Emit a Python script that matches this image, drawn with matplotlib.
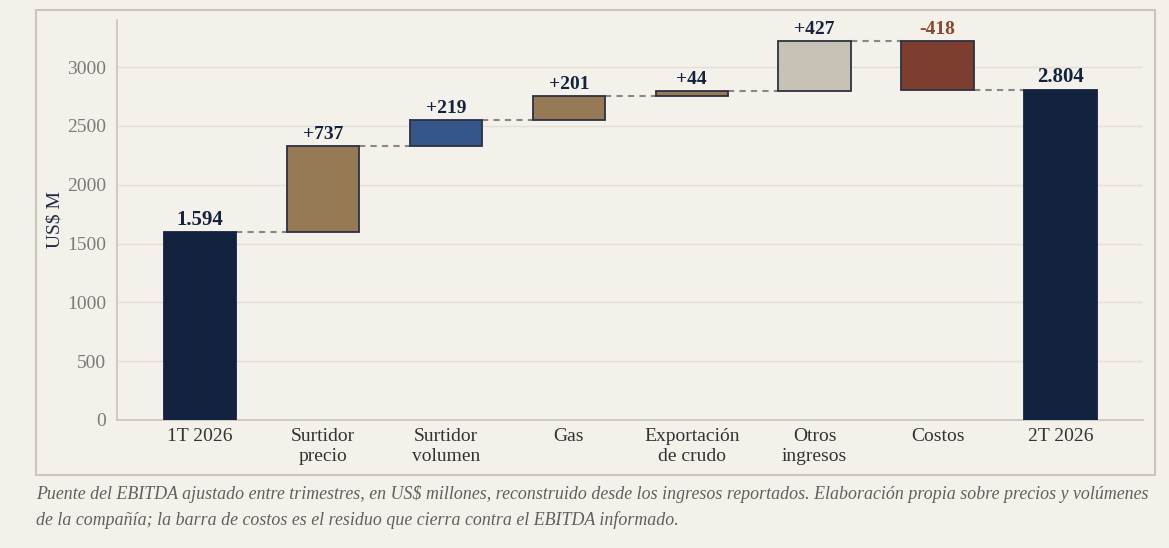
import matplotlib
matplotlib.use("Agg")
import matplotlib.pyplot as plt
from matplotlib.patches import Rectangle

# Data
categories = ["1T 2026", "Surtidor\nprecio", "Surtidor\nvolumen", "Gas",
              "Exportación\nde crudo", "Otros\ningresos", "Costos", "2T 2026"]
start_total = 1594
deltas = [737, 219, 201, 44, 427, -418]
end_total = 2804
labels = ["1.594", "+737", "+219", "+201", "+44", "+427", "-418", "2.804"]
yticks = [0, 500, 1000, 1500, 2000, 2500, 3000]

navy = "#13223f"
colors = [navy, "#957a55", "#36568a", "#957a55", "#957a55", "#c8c1b6", "#7d3e2f", navy]
label_colors = [navy, navy, navy, navy, navy, navy, "#8a4533", navy]
bg = "#f4f1eb"

plt.rcParams["font.family"] = ["Liberation Serif", "DejaVu Serif"]

fig = plt.figure(figsize=(11.69, 5.48), dpi=100, facecolor=bg)
ax = fig.add_axes([117 / 1169, 1 - 420 / 548, (1143 - 117) / 1169, 400 / 548])
ax.set_facecolor(bg)

# outer frame
fig.patches.append(Rectangle((36 / 1169, 1 - 475 / 548), (1155 - 36) / 1169, 465 / 548,
                             transform=fig.transFigure, fill=False,
                             edgecolor="#cbc6bb", linewidth=1.5, zorder=0))

# bar bottoms/tops
bottoms = [0]
heights = [start_total]
level = start_total
for d in deltas:
    if d >= 0:
        bottoms.append(level)
        heights.append(d)
    else:
        bottoms.append(level + d)
        heights.append(-d)
    level += d
bottoms.append(0)
heights.append(end_total)

x = list(range(len(categories)))
w = 0.59
for i in x:
    edge = colors[i] if i in (0, len(x) - 1) else "#2b3142"
    ax.bar(i, heights[i], bottom=bottoms[i], width=w, color=colors[i],
           edgecolor=edge, linewidth=1.3, zorder=3)
    ax.text(i, bottoms[i] + heights[i] + 25, labels[i], ha="center", va="bottom",
            fontsize=15 if i in (0, len(x) - 1) else 14, fontweight="bold",
            color=label_colors[i], zorder=4)

# connectors
levels = [start_total]
for d in deltas:
    levels.append(levels[-1] + d)
for i in range(len(x) - 1):
    ax.plot([i + w / 2, i + 1 - w / 2], [levels[i], levels[i]], color="#888888",
            linestyle=(0, (3, 2.5)), linewidth=1.5, zorder=2)

ax.set_xlim(-0.675, 7.67)
ax.set_ylim(0, 3400)
ax.set_yticks(yticks)
ax.set_xticks(x)
ax.set_xticklabels(categories, fontsize=14, color="#333333", linespacing=1.2)
ax.tick_params(axis="y", labelsize=14, labelcolor="#7a7a7a", length=0, pad=8)
ax.tick_params(axis="x", length=0, pad=6)
ax.grid(axis="y", color="#e4dfd6", linewidth=1, zorder=0)
ax.set_ylabel("US$ M", fontsize=14, color="#1f2a44", labelpad=2)
for s in ["top", "right"]:
    ax.spines[s].set_visible(False)
ax.spines["left"].set_color("#c9c4ba")
ax.spines["bottom"].set_color("#c9c4ba")
ax.spines["left"].set_linewidth(1.2)
ax.spines["bottom"].set_linewidth(1.2)

caption = ("Puente del EBITDA ajustado entre trimestres, en US$ millones, reconstruido desde los "
           "ingresos reportados. Elaboración propia sobre precios y volúmenes\n"
           "de la compañía; la barra de costos es el residuo que cierra contra el EBITDA informado.")
fig.text(36 / 1169, 1 - 485 / 548, caption, ha="left", va="top", fontsize=12.9,
         style="italic", color="#5f5f5f", linespacing=1.55)

fig.savefig("out.png", dpi=100, facecolor=bg)
